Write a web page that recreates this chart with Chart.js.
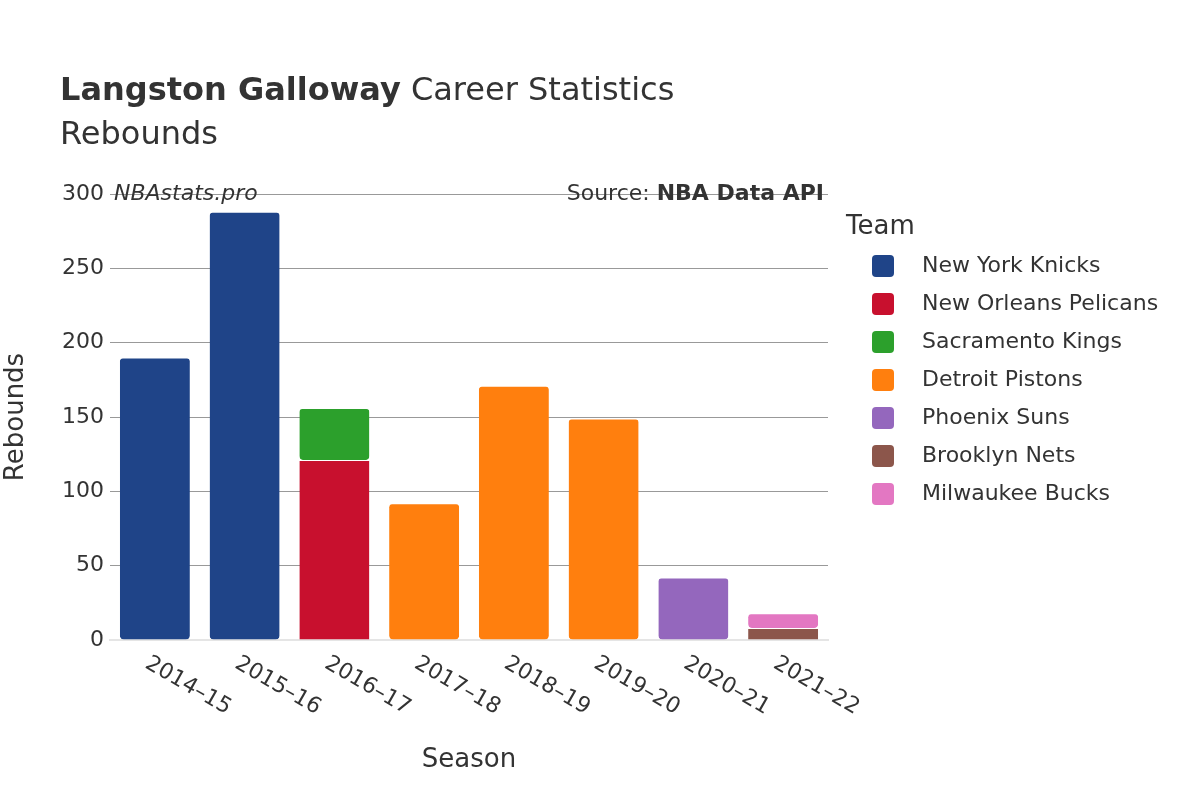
<!DOCTYPE html>
<html>
<head>
<meta charset="utf-8">
<script src="https://cdn.jsdelivr.net/npm/chart.js@4"></script>
<style>
  body { margin: 0; background: #fff; }
</style>
</head>
<body>
<canvas id="grafico" width="1200" height="800"></canvas>
<script>
const seasons = ['2014–15', '2015–16', '2016–17', '2017–18', '2018–19', '2019–20', '2020–21', '2021–22'];
const teams = ['New York Knicks', 'New Orleans Pelicans', 'Sacramento Kings', 'Detroit Pistons', 'Phoenix Suns', 'Brooklyn Nets', 'Milwaukee Bucks'];
const teamColors = ['#1f4488', '#c8102e', '#2ca02c', '#ff7f0e', '#9467bd', '#8c564b', '#e377c2'];
const knicks = [190, 288, null, null, null, null, null, null];
const pelicans = [null, null, 121, null, null, null, null, null];
const kings = [null, null, 35, null, null, null, null, null];
const pistons = [null, null, null, 92, 171, 149, null, null];
const suns = [null, null, null, null, null, null, 42, null];
const nets = [null, null, null, null, null, null, null, 8];
const bucks = [null, null, null, null, null, null, null, 10];
const yTicks = [0, 50, 100, 150, 200, 250, 300];

const series = [knicks, pelicans, kings, pistons, suns, nets, bucks];
const fonte = '"DejaVu Sans", sans-serif';
const texto = '#333';

const desenhos = {
    id: 'desenhos',
    afterDraw(chart) {
        const ctx = chart.ctx;
        const area = chart.chartArea;
        ctx.save();
        ctx.fillStyle = texto;
        ctx.textBaseline = 'alphabetic';
        ctx.textAlign = 'left';

        // titulo
        ctx.font = 'bold 32px ' + fonte;
        ctx.fillText('Langston Galloway', 60, 100);
        const w = ctx.measureText('Langston Galloway').width;
        ctx.font = '32px ' + fonte;
        ctx.fillText(' Career Statistics', 60 + w, 100);
        ctx.fillText('Rebounds', 60, 144);

        // fonte dos dados
        ctx.font = 'italic 22px ' + fonte;
        ctx.fillText('NBAstats.pro', 114, 200);
        ctx.textAlign = 'right';
        ctx.font = 'bold 22px ' + fonte;
        ctx.fillText('NBA Data API', 824, 200);
        const bw = ctx.measureText('NBA Data API').width;
        ctx.font = '22px ' + fonte;
        ctx.fillText('Source: ', 824 - bw, 200);

        // rotulos do eixo x
        const x = chart.scales.x;
        ctx.font = '22px ' + fonte;
        ctx.textAlign = 'left';
        ctx.textBaseline = 'middle';
        seasons.forEach((s, i) => {
            ctx.save();
            ctx.translate(x.getPixelForValue(i) - 8, area.bottom + 22);
            ctx.rotate(Math.PI / 6);
            ctx.fillText(s, 0, 0);
            ctx.restore();
        });

        // titulos dos eixos
        ctx.textAlign = 'center';
        ctx.font = '26px ' + fonte;
        ctx.fillText('Season', (area.left + area.right) / 2, 760);
        ctx.save();
        ctx.translate(16, (area.top + area.bottom) / 2);
        ctx.rotate(-Math.PI / 2);
        ctx.fillText('Rebounds', 0, 0);
        ctx.restore();

        // legenda
        ctx.textAlign = 'left';
        ctx.font = '26px ' + fonte;
        ctx.fillText('Team', 846, 227);
        ctx.font = '22px ' + fonte;
        teams.forEach((t, i) => {
            const y = 266 + i * 38;
            ctx.fillStyle = teamColors[i];
            ctx.beginPath();
            ctx.roundRect(872, y - 11, 22, 22, 4);
            ctx.fill();
            ctx.fillStyle = texto;
            ctx.fillText(t, 922, y);
        });
        ctx.restore();
    }
};

new Chart(document.getElementById('grafico').getContext('2d'), {
    type: 'bar',
    data: {
        labels: seasons,
        datasets: teams.map((t, i) => ({
            label: t,
            data: series[i],
            backgroundColor: teamColors[i],
            borderColor: '#fff',
            borderWidth: { top: 1 },
            borderRadius: 4,
            borderSkipped: false,
            barPercentage: 0.78,
            categoryPercentage: 1
        }))
    },
    options: {
        responsive: false,
        devicePixelRatio: 1,
        animation: false,
        layout: { padding: { top: 194, right: 372, bottom: 0, left: 0 } },
        plugins: { legend: { display: false }, tooltip: { enabled: false } },
        scales: {
            x: {
                stacked: true,
                grid: { display: false },
                border: { color: '#e5e5e5', width: 2 },
                ticks: { display: false },
                afterFit: s => { s.height = 160; }
            },
            y: {
                stacked: true,
                min: 0,
                max: 300,
                afterBuildTicks: s => { s.ticks = yTicks.map(v => ({ value: v })); },
                grid: { color: '#999', drawTicks: false },
                border: { display: false },
                ticks: { color: texto, font: { family: fonte, size: 22 }, padding: 6 },
                afterFit: s => { s.width = 110; }
            }
        }
    },
    plugins: [desenhos]
});
</script>
</body>
</html>
